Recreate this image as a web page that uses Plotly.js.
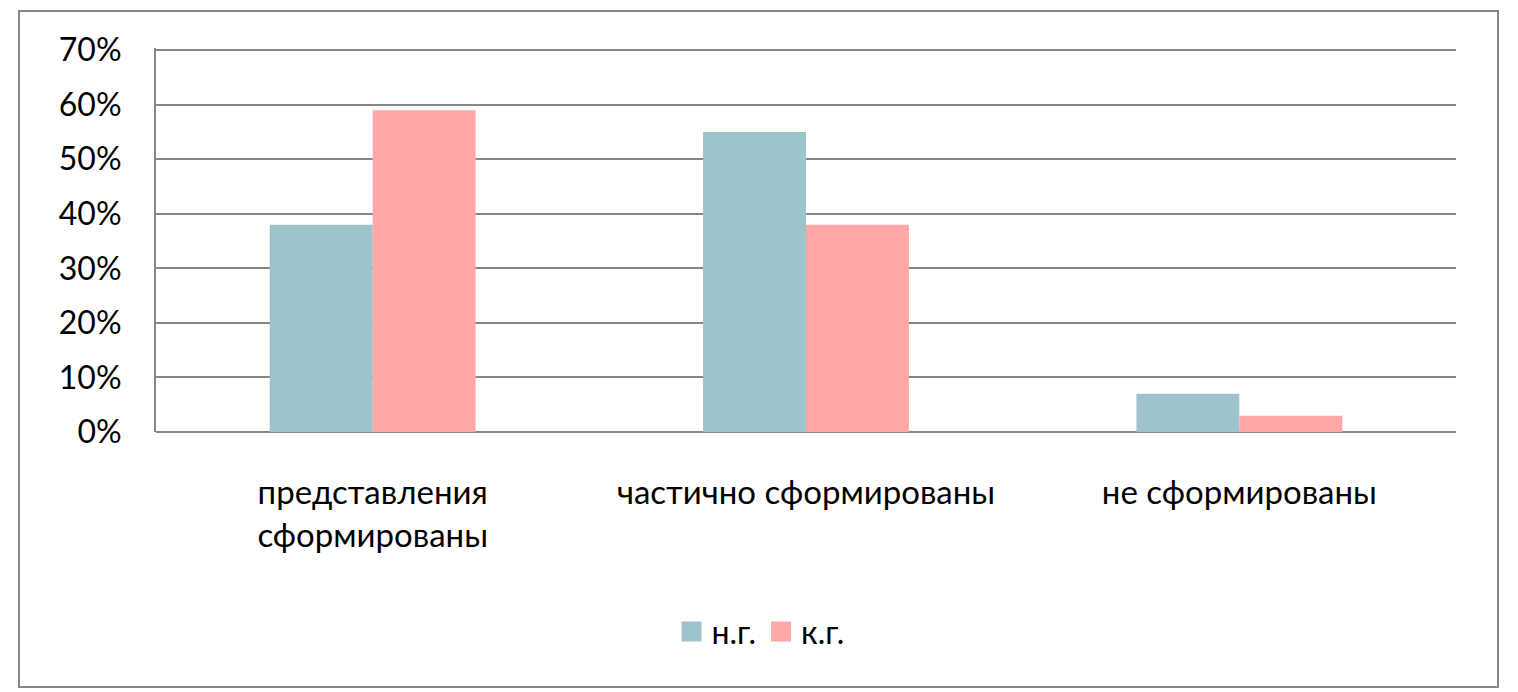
<!DOCTYPE html>
<html><head><meta charset="utf-8">
<script src="https://cdn.plot.ly/plotly-3.0.1.min.js"></script>
<style>
html,body{margin:0;padding:0;background:#fff;}
#wrap{position:relative;width:1518px;height:692px;}
#frame{position:absolute;left:18px;top:10px;width:1477px;height:674px;border:2px solid #878787;box-sizing:content-box;pointer-events:none;}
#chart{position:absolute;left:0;top:0;width:1518px;height:692px;}
</style></head>
<body><div id="wrap"><div id="chart"></div><div id="frame"></div></div>
<script>
const categories = ["представления<br>сформированы", "частично сформированы", "не сформированы"];
const seriesNames = ["н.г.", "к.г."];
const seriesColors = ["#9dc3cd", "#ffa6a6"];
const valuesNG = [0.38, 0.55, 0.07];
const valuesKG = [0.59, 0.38, 0.03];
const tickVals = [0, 0.1, 0.2, 0.3, 0.4, 0.5, 0.6, 0.7];
const tickText = ["0%", "10%", "20%", "30%", "40%", "50%", "60%", "70%"];

const fontFam = "Lato, 'Open Sans', sans-serif";
const traces = [
  {type:'bar', name:seriesNames[0], x:categories, y:valuesNG, marker:{color:seriesColors[0]}, hoverinfo:'none', showlegend:false},
  {type:'bar', name:seriesNames[1], x:categories, y:valuesKG, marker:{color:seriesColors[1]}, hoverinfo:'none', showlegend:false},
  {type:'scatter', mode:'markers', name:seriesNames[0], x:[null], y:[null], marker:{symbol:'square', size:16, color:seriesColors[0], line:{color:seriesColors[0], width:4}}},
  {type:'scatter', mode:'markers', name:seriesNames[1], x:[null], y:[null], marker:{symbol:'square', size:16, color:seriesColors[1], line:{color:seriesColors[1], width:4}}}
];
const layout = {
  width:1518, height:692,
  margin:{l:156, r:62, t:48, b:260},
  paper_bgcolor:'rgba(0,0,0,0)', plot_bgcolor:'#fff',
  barmode:'group', bargap:0.525, bargroupgap:0,
  font:{family:fontFam, size:32, color:'#000'},
  showlegend:true,
  legend:{orientation:'h', x:0.465, xanchor:'center', y:-0.52, yanchor:'middle', font:{size:32}, itemwidth:30, tracegroupgap:0},
  xaxis:{showline:false, showgrid:false, zeroline:false, ticks:'', ticklabelstandoff:38, tickfont:{size:33}, fixedrange:true},
  yaxis:{range:[0,0.704], tickvals:tickVals, ticktext:tickText, showgrid:true, gridcolor:'#878787', gridwidth:2,
         showline:true, linecolor:'#878787', linewidth:2, zeroline:true, zerolinecolor:'#878787', zerolinewidth:2,
         ticks:'', ticklabelstandoff:26, tickfont:{size:32}, fixedrange:true}
};
Plotly.newPlot('chart', traces, layout, {staticPlot:true});
</script></body></html>
